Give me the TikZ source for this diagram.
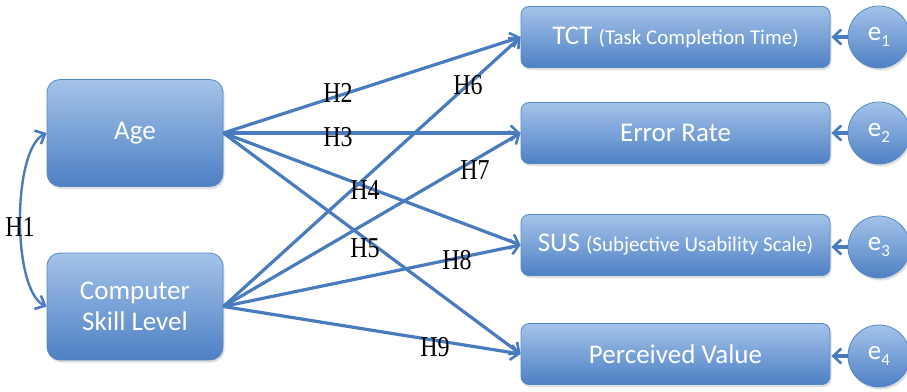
\documentclass[tikz,border=0pt]{standalone}
\usepackage{fontspec}
\usepackage{graphicx}
\setmainfont{Liberation Serif}
\newfontfamily\boxfont{Carlito}
\usetikzlibrary{arrows.meta,shadows}
\definecolor{boxtop}{RGB}{164,195,233}
\definecolor{boxbot}{RGB}{78,128,196}
\definecolor{boxline}{RGB}{86,136,198}
\definecolor{arrowblue}{RGB}{72,124,190}
\tikzset{
  bluebox/.style={rectangle, rounded corners=10pt, top color=boxtop, bottom color=boxbot,
    draw=boxline, line width=0.8pt, text=white, font=\boxfont\fontsize{27}{31}\selectfont,
    align=center, inner sep=2pt,
    drop shadow={opacity=0.25, shadow xshift=1.5pt, shadow yshift=-2.5pt}},
  leftbox/.style={bluebox, minimum width=176pt, minimum height=107pt, rounded corners=13pt},
  rightbox/.style={bluebox, minimum width=309pt, minimum height=61pt, rounded corners=8pt},
  errcirc/.style={circle, top color=boxtop, bottom color=boxbot, draw=boxline, line width=0.8pt,
    text=white, font=\boxfont\fontsize{27}{31}\selectfont, minimum size=62pt, inner sep=0pt,
    drop shadow={opacity=0.25, shadow xshift=1.5pt, shadow yshift=-2.5pt}},
  tip/.tip={Straight Barb[length=8pt,width=15pt,line width=2.6pt]},
  conn/.style={draw=arrowblue, line width=3.2pt, -tip},
  hlab/.style={font=\fontsize{24}{28}\selectfont, inner sep=0pt}
}
\newcommand{\paren}[1]{{\fontsize{21}{24}\selectfont #1}}
\newcommand{\hl}[1]{\scalebox{1}[1.2]{#1}}
\newcommand{\esub}[1]{e\raisebox{-0.45ex}{\fontsize{17}{20}\selectfont #1}}
\begin{document}
\begin{tikzpicture}[x=1pt,y=-1pt]
\useasboundingbox (0,0) rectangle (907,391);
\fill[white] (0,0) rectangle (907,391);
% left boxes
\node[leftbox] (age) at (135,133) {Age};
\node[leftbox] (csl) at (135,306.5) {Computer\\Skill Level};
% right boxes
\node[rightbox] (tct) at (675.5,37) {TCT \paren{(Task Completion Time)}};
\node[rightbox] (err) at (675.5,133) {Error Rate};
\node[rightbox] (sus) at (675.5,245) {SUS \paren{(Subjective Usability Scale)}};
\node[rightbox] (pv) at (675.5,354) {Perceived Value};
% error circles
\node[errcirc] (e1) at (879,37) {\esub{1}};
\node[errcirc] (e2) at (879,133) {\esub{2}};
\node[errcirc] (e3) at (879,247) {\esub{3}};
\node[errcirc] (e4) at (879,356) {\esub{4}};
% error arrows
\foreach \c/\b in {e1/tct,e2/err,e3/sus,e4/pv}
  \draw[conn, shorten >=1pt] (\c.west) -- (\c.west -| \b.east);
% H1
\coordinate (h1a) at (12,150);
\coordinate (h1b) at (12,290);
\draw[conn, tip-tip, line width=2.4pt]
  (age.west) .. controls (h1a) and (h1b) .. (csl.west);
% hypothesis paths
\draw[conn] (age.east) -- (tct.west);
\draw[conn] (age.east) -- (err.west);
\draw[conn] (age.east) -- (sus.west);
\draw[conn] (age.east) -- (pv.west);
\draw[conn] (csl.east) -- (tct.west);
\draw[conn] (csl.east) -- (err.west);
\draw[conn] (csl.east) -- (sus.west);
\draw[conn] (csl.east) -- (pv.west);
% labels
\node[hlab] (l1) at (20,227) {\hl{H1}};
\node[hlab] (l2) at (338,93) {\hl{H2}};
\node[hlab] (l3) at (338,137) {\hl{H3}};
\node[hlab] (l4) at (365,190) {\hl{H4}};
\node[hlab] (l5) at (365,248) {\hl{H5}};
\node[hlab] (l6) at (468,85) {\hl{H6}};
\node[hlab] (l7) at (475,170) {\hl{H7}};
\node[hlab] (l8) at (457,260) {\hl{H8}};
\node[hlab] (l9) at (435,347) {\hl{H9}};
\end{tikzpicture}
\end{document}
